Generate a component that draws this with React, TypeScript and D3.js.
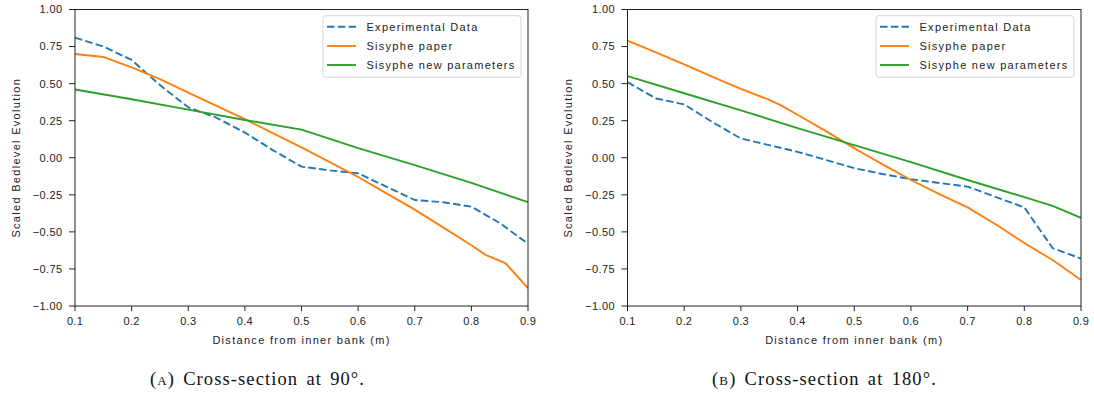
import React from 'react';
import * as d3 from 'd3';

// Distance from the inner bank (m) for each series
const expDistance = [0.1, 0.15, 0.2, 0.25, 0.3, 0.35, 0.4, 0.45, 0.5, 0.55, 0.6, 0.65, 0.7, 0.75, 0.8, 0.85, 0.9];
const paper90Distance = [0.1, 0.15, 0.2, 0.25, 0.3, 0.35, 0.4, 0.45, 0.5, 0.55, 0.6, 0.65, 0.7, 0.75, 0.8, 0.825, 0.86, 0.9];
const newParams90Distance = [0.1, 0.2, 0.3, 0.4, 0.5, 0.6, 0.7, 0.8, 0.9];
const paper180Distance = [0.1, 0.15, 0.2, 0.25, 0.3, 0.35, 0.37, 0.4, 0.45, 0.5, 0.52, 0.55, 0.6, 0.65, 0.7, 0.75, 0.8, 0.85, 0.9];
const newParams180Distance = [0.1, 0.2, 0.3, 0.4, 0.5, 0.6, 0.7, 0.8, 0.85, 0.9];

// Scaled bedlevel evolution, cross-section at 90°
const experimental90 = [0.81, 0.75, 0.66, 0.49, 0.34, 0.27, 0.17, 0.05, -0.06, -0.085, -0.105, -0.195, -0.285, -0.3, -0.33, -0.44, -0.58];
const paper90 = [0.7, 0.68, 0.61, 0.53, 0.44, 0.35, 0.26, 0.165, 0.07, -0.03, -0.13, -0.24, -0.35, -0.47, -0.59, -0.655, -0.71, -0.88];
const newParams90 = [0.46, 0.395, 0.325, 0.255, 0.19, 0.065, -0.05, -0.17, -0.3];

// Scaled bedlevel evolution, cross-section at 180°
const experimental180 = [0.51, 0.4, 0.36, 0.24, 0.13, 0.085, 0.04, -0.015, -0.07, -0.11, -0.145, -0.17, -0.195, -0.265, -0.335, -0.61, -0.68];
const paper180 = [0.79, 0.71, 0.63, 0.545, 0.465, 0.39, 0.355, 0.29, 0.18, 0.065, 0.02, -0.045, -0.15, -0.245, -0.335, -0.45, -0.575, -0.69, -0.825];
const newParams180 = [0.55, 0.435, 0.32, 0.2, 0.085, -0.03, -0.15, -0.265, -0.325, -0.405];

const xTicks = [0.1, 0.2, 0.3, 0.4, 0.5, 0.6, 0.7, 0.8, 0.9];
const yTicks = [-1, -0.75, -0.5, -0.25, 0, 0.25, 0.5, 0.75, 1];
const seriesNames = ['Experimental Data', 'Sisyphe paper', 'Sisyphe new parameters'];
const seriesColors = ['#1f77b4', '#ff7f0e', '#2ca02c'];

const SANS = '"Liberation Sans", Arial, Helvetica, sans-serif';
const SERIF = '"Liberation Serif", "Times New Roman", serif';
const INK = '#222';

type Series = { xs: number[]; ys: number[] };
type PanelSpec = {
  left: number;
  right: number;
  series: Series[];
  captionLetter: string;
  captionRest: string;
  captionX: number;
};

const TOP = 9.5;
const BOTTOM = 306;

const panels: PanelSpec[] = [
  {
    left: 75,
    right: 528,
    series: [
      { xs: expDistance, ys: experimental90 },
      { xs: paper90Distance, ys: paper90 },
      { xs: newParams90Distance, ys: newParams90 },
    ],
    captionLetter: 'a',
    captionRest: ' Cross-section at 90°.',
    captionX: 257.5,
  },
  {
    left: 627.5,
    right: 1081,
    series: [
      { xs: expDistance, ys: experimental180 },
      { xs: paper180Distance, ys: paper180 },
      { xs: newParams180Distance, ys: newParams180 },
    ],
    captionLetter: 'b',
    captionRest: ' Cross-section at 180°.',
    captionX: 824.5,
  },
];

const fmtY = d3.format('.2f');
const fmtX = d3.format('.1f');

function Panel({ spec }: { spec: PanelSpec }) {
  const x = d3.scaleLinear().domain([0.1, 0.9]).range([spec.left, spec.right]);
  const y = d3.scaleLinear().domain([-1, 1]).range([BOTTOM, TOP]);
  const midX = (spec.left + spec.right) / 2;
  const midY = (TOP + BOTTOM) / 2;

  const legendRight = spec.right - 7;
  const legendLeft = legendRight - 198;
  const legendTop = TOP + 6.2;
  const rowY = [legendTop + 11, legendTop + 30.3, legendTop + 49.3];

  return (
    <g>
      {spec.series.map((s, i) => {
        const line = d3
          .line<number>()
          .x((_, k) => x(s.xs[k]))
          .y((v) => y(v));
        return (
          <path
            key={i}
            d={line(s.ys) || ''}
            fill="none"
            stroke={seriesColors[i]}
            strokeWidth={1.9}
            strokeDasharray={i === 0 ? '7.5 3.3' : undefined}
            strokeLinejoin="round"
          />
        );
      })}

      {/* frame */}
      <rect
        x={spec.left}
        y={TOP}
        width={spec.right - spec.left}
        height={BOTTOM - TOP}
        fill="none"
        stroke={INK}
        strokeWidth={1}
      />

      {/* y axis */}
      {yTicks.map((t) => (
        <g key={`y${t}`}>
          <line x1={spec.left - 6} x2={spec.left} y1={y(t)} y2={y(t)} stroke={INK} strokeWidth={1} />
          <text
            x={spec.left - 12.5}
            y={y(t) + 3.9}
            textAnchor="end"
            fontFamily={SANS}
            fontSize={11}
            letterSpacing={0.4}
            fill={INK}
          >
            {fmtY(t)}
          </text>
        </g>
      ))}

      {/* x axis */}
      {xTicks.map((t) => (
        <g key={`x${t}`}>
          <line x1={x(t)} x2={x(t)} y1={BOTTOM} y2={BOTTOM + 5} stroke={INK} strokeWidth={1} />
          <text
            x={x(t)}
            y={325}
            textAnchor="middle"
            fontFamily={SANS}
            fontSize={11}
            letterSpacing={0.3}
            fill={INK}
          >
            {fmtX(t)}
          </text>
        </g>
      ))}

      <text
        x={midX}
        y={343.5}
        textAnchor="middle"
        fontFamily={SANS}
        fontSize={11}
        letterSpacing={1.3}
        fill={INK}
      >
        Distance from inner bank (m)
      </text>
      <text
        transform={`translate(${spec.left - 55.5},${midY}) rotate(-90)`}
        textAnchor="middle"
        fontFamily={SANS}
        fontSize={11}
        letterSpacing={1.3}
        fill={INK}
      >
        Scaled Bedlevel Evolution
      </text>

      {/* legend */}
      <rect
        x={legendLeft}
        y={legendTop}
        width={legendRight - legendLeft}
        height={61.6}
        rx={3}
        fill="#fff"
        fillOpacity={0.8}
        stroke="#d4d4d4"
        strokeWidth={1}
      />
      {seriesNames.map((name, i) => (
        <g key={name}>
          <line
            x1={legendLeft + 4}
            x2={legendLeft + 33}
            y1={rowY[i]}
            y2={rowY[i]}
            stroke={seriesColors[i]}
            strokeWidth={1.9}
            strokeDasharray={i === 0 ? '7.5 3.3' : undefined}
          />
          <text
            x={legendLeft + 43.5}
            y={rowY[i] + 4}
            fontFamily={SANS}
            fontSize={11}
            letterSpacing={1.27}
            fill={INK}
          >
            {name}
          </text>
        </g>
      ))}

      {/* caption */}
      <text
        x={spec.captionX}
        y={384.5}
        textAnchor="middle"
        fontFamily={SERIF}
        fontSize={18.5}
        letterSpacing={1.1}
        wordSpacing={2.5}
        fill="#111"
      >
        (<tspan style={{ fontVariant: 'small-caps' }}>{spec.captionLetter}</tspan>){spec.captionRest}
      </text>
    </g>
  );
}

export default function App() {
  return (
    <svg
      width={1094}
      height={398}
      viewBox="0 0 1094 398"
      style={{ position: 'absolute', left: 0, top: 0, background: '#fff' }}
    >
      <rect width={1094} height={398} fill="#fff" />
      {panels.map((p, i) => (
        <Panel key={i} spec={p} />
      ))}
    </svg>
  );
}
